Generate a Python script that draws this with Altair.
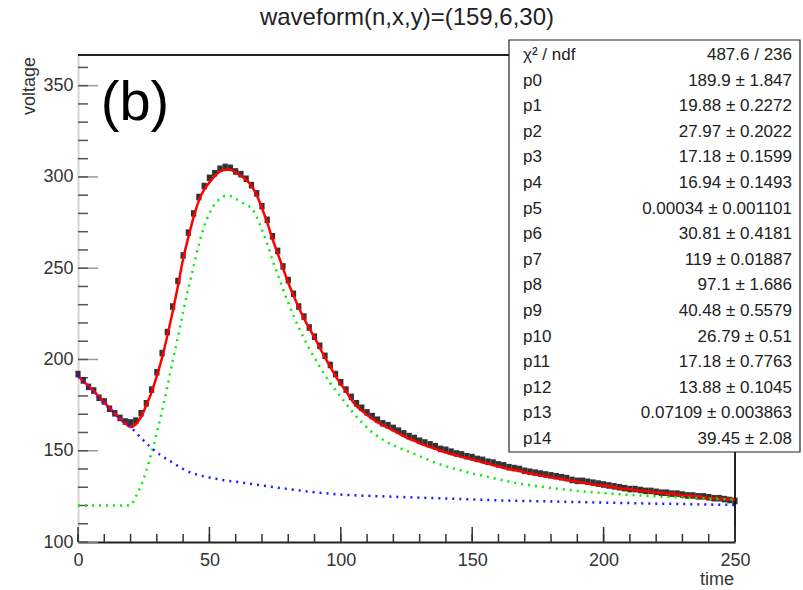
import altair as alt
import pandas as pd

# ---------------- data ----------------
TIME = list(range(0, 251, 2))
DATA = [192, 188.5, 185, 183, 179, 177, 173, 170.5, 168, 166,
        165.5, 166.5, 170.5, 176, 183.5, 193, 203.5, 215, 229, 243,
        257, 269.5, 280, 289, 295, 299.5, 302, 304.5, 305.5, 305,
        303, 301.5, 299, 295.5, 291, 284, 276.5, 267.5, 259.5, 251,
        243.5, 236, 229, 223.5, 217.5, 212.5, 207.5, 202, 197, 192,
        187.5, 183.5, 179.5, 176, 173.5, 171, 169, 167, 165, 164,
        162.5, 161, 159.5, 158, 157, 155.5, 154.5, 153.5, 152.5, 151,
        150.5, 149.5, 148.5, 148, 147, 146.5, 145.5, 145, 144, 143.5,
        142.5, 142, 141, 140.5, 140, 139, 138.5, 138, 137.5, 137,
        136.5, 136, 135.5, 135, 134, 133.5, 133.5, 133, 132.5, 132,
        131.5, 131, 130.5, 130, 129.5, 129, 129, 128.5, 128, 128,
        127.5, 127, 127, 126.5, 126.5, 126, 125.5, 125.5, 125, 125,
        124.5, 124, 124, 123.5, 123, 122.5]
ERR = 1.8

FIT = [191, 188, 185.5, 182.5, 179.5, 176.5, 173.5, 170.5, 167.5, 165,
       163, 164.5, 168.5, 175, 182, 191, 201, 213, 226, 240,
       255, 267, 278, 287, 293, 297, 300.5, 303, 304, 304,
       302.5, 300.5, 298.5, 295, 290, 283, 275, 266, 258, 250,
       242, 235, 228.5, 222.5, 217, 212, 206.5, 201, 196, 191,
       186.5, 182.5, 178, 174.5, 172, 169.5, 167.5, 165.5, 164, 162.5,
       161, 159.5, 158, 156.5, 155.5, 154, 153, 152, 151, 150,
       149, 148, 147.5, 146.5, 146, 145, 144.5, 143.5, 143, 142,
       141.5, 140.5, 140, 139.5, 139, 138, 137.5, 137, 136.5, 136,
       135.5, 135, 134.5, 134, 133.5, 133, 132.5, 132, 131.5, 131,
       131, 130.5, 130, 129.5, 129, 129, 128.5, 128, 128, 127.5,
       127, 127, 126.5, 126.5, 126, 125.5, 125.5, 125, 125, 124.5,
       124, 124, 123.5, 123.5, 123.5, 123]

GREEN_T = [0, 10, 19.9, 22, 24, 26, 28, 30, 32, 34, 36, 38, 40, 42, 44, 46, 48,
           50, 52, 54, 56, 58, 60, 62, 64, 66, 68, 70, 72, 74, 76, 78, 80, 84,
           88, 92, 96, 100, 104, 108, 112, 116, 120, 125, 130, 135, 140, 145,
           150, 155, 160, 165, 170, 175, 180, 185, 190, 200, 210, 220, 230,
           240, 250]
GREEN_V = [120, 120, 120, 125, 131, 139, 149, 160, 172, 185, 199, 212, 226,
           239, 251, 263, 273, 280, 285, 288, 289.5, 289.5, 288, 286.5, 284.5,
           283, 278, 271, 263.5, 254.5, 246.5, 238.5, 231, 217.5, 206, 196,
           187, 179.5, 172, 165.5, 160, 156, 153, 150, 147, 144, 141.5, 139.5,
           137.5, 136, 134.3, 132.8, 131.5, 130.5, 129.6, 128.8, 128, 126.8,
           125.8, 125, 124.4, 123.8, 123.3]

BLUE_T = [0, 4, 8, 12, 16, 20, 24, 28, 32, 36, 40, 44, 50, 55, 60, 65, 70, 80,
          90, 100, 110, 120, 130, 140, 150, 160, 170, 180, 190, 200, 210, 220,
          230, 240, 250]
BLUE_V = [191, 184.5, 178.5, 173, 167.5, 163, 157, 151.5, 147, 143.5, 140,
          137.5, 135.3, 134, 133, 132, 131, 129, 127.3, 126, 125.3, 124.8,
          124.3, 123.8, 123.3, 122.8, 122.5, 122.2, 121.9, 121.6, 121.3, 121,
          120.8, 120.5, 120.3]

STAT_NAMES = ["χ² / ndf", "p0", "p1", "p2", "p3", "p4", "p5", "p6", "p7",
              "p8", "p9", "p10", "p11", "p12", "p13", "p14"]
STAT_VALUES = ["487.6 / 236", "189.9 ± 1.847", "19.88 ± 0.2272",
               "27.97 ± 0.2022", "17.18 ± 0.1599", "16.94 ± 0.1493",
               "0.00034 ± 0.001101", "30.81 ± 0.4181", "119 ± 0.01887",
               "97.1 ± 1.686", "40.48 ± 0.5579", "26.79 ±  0.51",
               "17.18 ± 0.7763", "13.88 ± 0.1045", "0.07109 ± 0.003863",
               "39.45 ± 2.08"]

TITLE = "waveform(n,x,y)=(159,6,30)"
X_TITLE = "time"
Y_TITLE = "voltage"
PANEL = "(b)"

X_MAJOR = [0, 50, 100, 150, 200, 250]
X_MINOR = list(range(0, 251, 10))
Y_MAJOR = [100, 150, 200, 250, 300, 350]
Y_MINOR = list(range(100, 361, 10))
X_DOMAIN = [0, 250]
Y_DOMAIN = [100, 366.8]

# ---------------- layout ----------------
W, H = 657, 487
FONT = "Liberation Sans"

xs = alt.Scale(domain=X_DOMAIN, nice=False, zero=False)
ys = alt.Scale(domain=Y_DOMAIN, nice=False, zero=False)
XAX = alt.Axis(values=X_MAJOR, title=None, ticks=False, grid=False,
               labelFlush=False, labelFontSize=18, labelFont=FONT,
               labelColor="#333", labelPadding=9, domainColor="#222",
               domainWidth=2, format="d")
YAX = alt.Axis(values=Y_MAJOR, title=None, ticks=False, grid=False,
               labelFlush=False, labelFontSize=18, labelFont=FONT,
               labelColor="#333", labelPadding=5, domainColor="#d4d4d4",
               domainWidth=2, format="d")

one = pd.DataFrame({"a": [0]})

data_df = pd.DataFrame({"t": TIME, "v": DATA})
data_df["t0"] = data_df["t"] - 1
data_df["t1"] = data_df["t"] + 1
data_df["lo"] = data_df["v"] - ERR
data_df["hi"] = data_df["v"] + ERR

fit_df = pd.DataFrame({"t": TIME, "v": FIT})
green_df = pd.DataFrame({"t": GREEN_T, "v": GREEN_V})
blue_df = pd.DataFrame({"t": BLUE_T, "v": BLUE_V})

frame_top = alt.Chart(one).mark_rule(color="#222", strokeWidth=2).encode(
    x=alt.value(0), x2=alt.value(W), y=alt.value(0))
frame_right = alt.Chart(one).mark_rule(color="#222", strokeWidth=2).encode(
    x=alt.value(W), y=alt.value(0), y2=alt.value(H))

ymaj = alt.Chart(pd.DataFrame({"v": Y_MAJOR})).mark_rule(
    color="#9a9a9a", strokeWidth=1.5).encode(
    y=alt.Y("v:Q", scale=ys, axis=YAX), x=alt.value(0), x2=alt.value(20))
ymin = alt.Chart(pd.DataFrame({"v": Y_MINOR})).mark_rule(
    color="#555", strokeWidth=1.5).encode(
    y=alt.Y("v:Q", scale=ys, axis=YAX), x=alt.value(0), x2=alt.value(10))
xmaj = alt.Chart(pd.DataFrame({"t": X_MAJOR})).mark_rule(
    color="#333", strokeWidth=1.5).encode(
    x=alt.X("t:Q", scale=xs, axis=XAX), y=alt.value(H), y2=alt.value(H - 15))
xmin = alt.Chart(pd.DataFrame({"t": X_MINOR})).mark_rule(
    color="#333", strokeWidth=1.5).encode(
    x=alt.X("t:Q", scale=xs, axis=XAX), y=alt.value(H), y2=alt.value(H - 8))

data_layer = alt.Chart(data_df).mark_rect(color="#111", opacity=0.85).encode(
    x=alt.X("t0:Q", scale=xs, axis=XAX), x2="t1",
    y=alt.Y("lo:Q", scale=ys, axis=YAX), y2="hi")

red = alt.Chart(fit_df).mark_line(color="#ff0000", strokeWidth=2.5,
                                  interpolate="monotone").encode(
    x=alt.X("t:Q", scale=xs, axis=XAX), y=alt.Y("v:Q", scale=ys, axis=YAX))
green = alt.Chart(green_df).mark_line(color="#00ee00", strokeWidth=2.5,
                                      strokeDash=[2, 5],
                                      interpolate="monotone").encode(
    x=alt.X("t:Q", scale=xs, axis=XAX), y=alt.Y("v:Q", scale=ys, axis=YAX))
blue = alt.Chart(blue_df).mark_line(color="#1a1aff", strokeWidth=2.5,
                                    strokeDash=[2, 5],
                                    interpolate="monotone").encode(
    x=alt.X("t:Q", scale=xs, axis=XAX), y=alt.Y("v:Q", scale=ys, axis=YAX))

panel = alt.Chart(one).mark_text(text=PANEL, font=FONT, fontSize=56,
                                 align="center", baseline="alphabetic",
                                 color="black").encode(
    x=alt.value(57), y=alt.value(65))

title = alt.Chart(one).mark_text(text=TITLE, font=FONT, fontSize=24,
                                 align="center", baseline="middle",
                                 color="#222").encode(
    x=alt.value(329), y=alt.value(-37))
xtitle = alt.Chart(one).mark_text(text=X_TITLE, font=FONT, fontSize=18,
                                  align="right", baseline="middle",
                                  color="#333").encode(
    x=alt.value(656), y=alt.value(525))
ytitle = alt.Chart(one).mark_text(text=Y_TITLE, font=FONT, fontSize=18,
                                  align="right", baseline="middle", angle=270,
                                  color="#333").encode(
    x=alt.value(-48), y=alt.value(2))

stat_box = alt.Chart(one).mark_rect(fill="white", stroke="#222",
                                    strokeWidth=1.2).encode(
    x=alt.value(431), x2=alt.value(722), y=alt.value(-15), y2=alt.value(397))

main = alt.layer(frame_top, frame_right, ymaj, ymin, xmaj, xmin, data_layer,
                 red, green, blue, panel, title, xtitle, ytitle, stat_box)

stat_df = pd.DataFrame({"row": list(range(len(STAT_NAMES))),
                        "name": STAT_NAMES, "val": STAT_VALUES})
row_scale = alt.Scale(type="point", domain=list(range(len(STAT_NAMES))),
                      range=[0, 384], padding=0)
stat_names = alt.Chart(stat_df).mark_text(font=FONT, fontSize=17,
                                          align="left", baseline="middle",
                                          color="#222").encode(
    y=alt.Y("row:O", scale=row_scale, axis=None), x=alt.value(445),
    text="name:N")
stat_vals = alt.Chart(stat_df).mark_text(font=FONT, fontSize=17,
                                         align="right", baseline="middle",
                                         color="#222").encode(
    y=alt.Y("row:O", scale=row_scale, axis=None), x=alt.value(714),
    text="val:N")
stats = alt.layer(stat_names, stat_vals)

chart = alt.layer(main, stats).resolve_scale(y="independent").properties(
    width=W, height=H,
    autosize=alt.AutoSizeParams(type="none"),
    padding={"left": 78, "top": 55, "right": 68, "bottom": 48},
    background="white",
).configure_view(stroke=None)

chart.save("out.html", embed_options={"renderer": "svg", "actions": False})
